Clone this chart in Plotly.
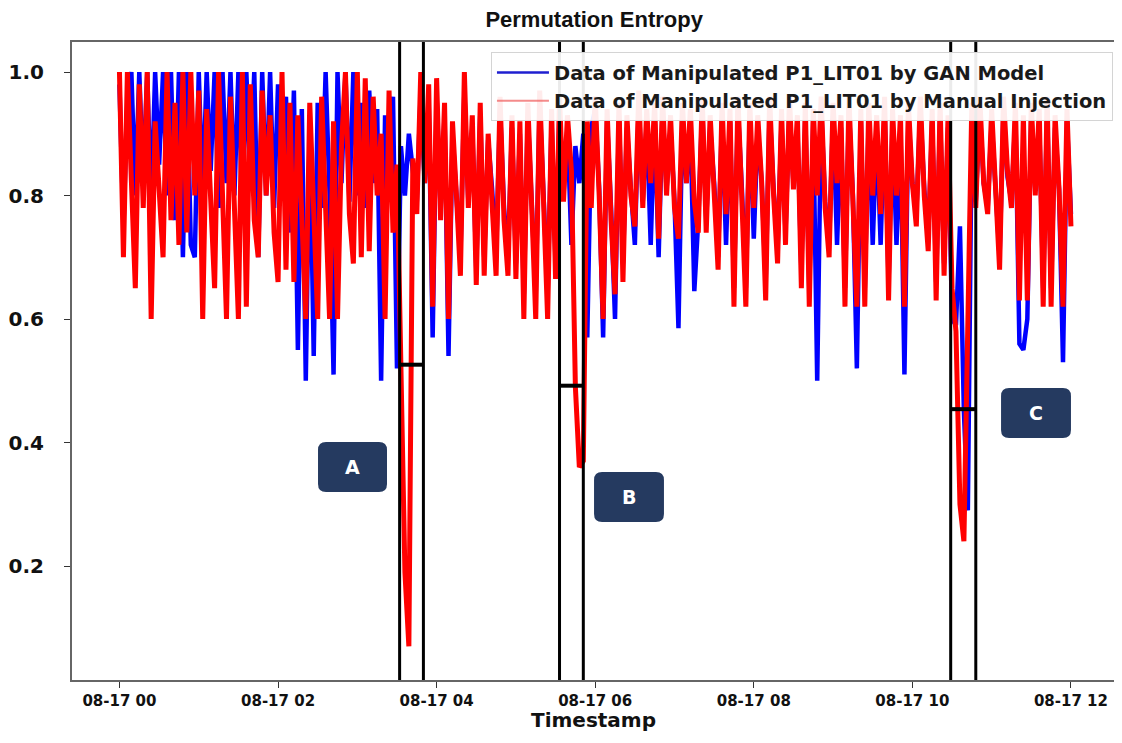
import pandas as pd
import plotly.graph_objects as go

# permutation entropy, one value every 3 minutes from 08-17 00:00 to 12:00
start_time = "2019-08-17 00:00"
step = "3min"

gan_values = [
    0.98, 0.75, 0.95, 1.00, 0.80, 1.00, 0.82, 1.00, 0.78, 1.00,
    0.85, 1.00, 0.80, 1.00, 0.76, 1.00, 0.70, 1.00, 0.72, 0.70,
    1.00, 0.80, 1.00, 0.84, 1.00, 0.78, 1.00, 0.82, 1.00, 0.80,
    1.00, 0.77, 1.00, 0.83, 1.00, 0.70, 1.00, 0.80, 1.00, 0.78,
    0.98, 0.82, 0.96, 0.74, 0.97, 0.55, 0.94, 0.50, 0.92, 0.54,
    0.95, 0.78, 1.00, 0.80, 0.51, 1.00, 0.82, 1.00, 0.79, 1.00,
    0.80, 0.95, 0.78, 0.97, 0.82, 0.94, 0.50, 0.93, 0.80, 0.96,
    0.52, 0.88, 0.80, 0.90, 0.84, 0.79, 0.97, 0.82, 0.95, 0.57,
    0.96, 0.78, 0.93, 0.54, 0.90, 0.81, 0.70, 0.97, 0.79, 0.91,
    0.68, 0.93, 0.70, 0.89, 0.81, 0.70, 0.94, 0.78, 0.70, 0.91,
    0.69, 0.90, 0.64, 0.93, 0.79, 0.64, 0.95, 0.80, 0.64, 0.92,
    0.69, 0.94, 0.80, 0.91, 0.72, 0.88, 0.82, 0.90, 0.57, 0.91,
    0.94, 0.81, 0.57, 0.92, 0.78, 0.60, 0.93, 0.69, 0.91, 0.81,
    0.72, 0.95, 0.79, 0.92, 0.72, 0.93, 0.70, 0.94, 0.81, 0.91,
    0.79, 0.585, 0.93, 0.82, 0.92, 0.645, 0.76, 0.94, 0.76, 0.91,
    0.82, 0.70, 0.93, 0.72, 0.92, 0.65, 0.94, 0.81, 0.65, 0.93,
    0.73, 0.91, 0.82, 0.66, 0.94, 0.81, 0.71, 0.92, 0.74, 0.94,
    0.82, 0.91, 0.68, 0.93, 0.65, 0.92, 0.50, 0.94, 0.79, 0.72,
    0.93, 0.72, 0.91, 0.65, 0.94, 0.80, 0.52, 0.92, 0.65, 0.93,
    0.72, 0.91, 0.72, 0.94, 0.66, 0.92, 0.72, 0.91, 0.51, 0.93,
    0.82, 0.77, 0.94, 0.81, 0.73, 0.92, 0.66, 0.93, 0.69, 0.91,
    0.60, 0.59, 0.75, 0.45, 0.29, 0.93, 0.79, 0.94, 0.82, 0.78,
    0.92, 0.81, 0.70, 0.94, 0.83, 0.79, 0.93, 0.56, 0.55, 0.60,
    0.93, 0.81, 0.92, 0.65, 0.94, 0.65, 0.91, 0.81, 0.53, 0.92,
    0.77,
]

manual_values = [
    1.00, 0.70, 1.00, 0.80, 0.65, 0.98, 0.78, 1.00, 0.60, 0.92,
    0.82, 0.70, 1.00, 0.76, 0.95, 0.72, 1.00, 0.74, 1.00, 0.80,
    0.97, 0.60, 0.94, 0.78, 0.65, 1.00, 0.80, 0.60, 0.96, 0.75,
    0.60, 1.00, 0.62, 0.98, 0.76, 0.70, 0.97, 0.80, 0.93, 0.74,
    0.66, 1.00, 0.68, 0.95, 0.66, 0.93, 0.78, 0.60, 0.95, 0.76,
    0.60, 0.96, 0.80, 0.60, 0.92, 0.60, 0.88, 1.00, 0.77, 0.69,
    1.00, 0.70, 0.99, 0.71, 0.96, 0.80, 0.90, 0.60, 0.97, 0.74,
    0.85, 0.53, 0.19, 0.07, 0.86, 0.77, 1.00, 0.82, 0.98, 0.62,
    0.99, 0.76, 0.95, 0.60, 0.92, 0.80, 0.67, 1.00, 0.78, 0.93,
    0.655, 0.95, 0.67, 0.90, 0.80, 0.67, 0.96, 0.76, 0.67, 0.93,
    0.665, 0.92, 0.60, 0.95, 0.78, 0.60, 0.97, 0.80, 0.60, 0.94,
    0.665, 0.96, 0.79, 0.93, 0.84, 0.49, 0.36, 0.37, 0.92, 0.78,
    0.96, 0.80, 0.60, 0.94, 0.76, 0.64, 0.95, 0.66, 0.93, 0.80,
    0.75, 0.97, 0.78, 0.94, 0.82, 0.95, 0.73, 0.96, 0.80, 0.93,
    0.78, 0.73, 0.95, 0.82, 0.94, 0.79, 0.74, 0.96, 0.74, 0.93,
    0.81, 0.68, 0.95, 0.77, 0.94, 0.62, 0.96, 0.80, 0.62, 0.95,
    0.78, 0.93, 0.82, 0.63, 0.96, 0.80, 0.69, 0.94, 0.72, 0.96,
    0.81, 0.93, 0.65, 0.95, 0.62, 0.94, 0.80, 0.96, 0.78, 0.70,
    0.95, 0.82, 0.93, 0.62, 0.96, 0.79, 0.62, 0.94, 0.62, 0.95,
    0.80, 0.93, 0.77, 0.96, 0.63, 0.94, 0.80, 0.93, 0.62, 0.95,
    0.82, 0.75, 0.96, 0.80, 0.71, 0.94, 0.63, 0.95, 0.67, 0.93,
    0.65, 0.58, 0.30, 0.24, 0.62, 0.95, 0.78, 0.96, 0.82, 0.77,
    0.94, 0.80, 0.68, 0.96, 0.84, 0.78, 0.95, 0.63, 0.93, 0.63,
    0.95, 0.80, 0.94, 0.62, 0.96, 0.62, 0.93, 0.81, 0.62, 0.94,
    0.75,
]

# attack windows (black verticals) and the threshold drawn inside each
attack_start = ["2019-08-17 03:32", "2019-08-17 05:33", "2019-08-17 10:29"]
attack_end = ["2019-08-17 03:50", "2019-08-17 05:51", "2019-08-17 10:48"]
attack_level = [0.526, 0.492, 0.454]
attack_label = ["A", "B", "C"]

assert len(gan_values) == len(manual_values)
times = pd.date_range(start_time, periods=len(manual_values), freq=step)

fig = go.Figure()
fig.add_trace(go.Scatter(x=times, y=gan_values, mode="lines",
                         line=dict(color="#0000ff", width=4.5), showlegend=False))
fig.add_trace(go.Scatter(x=times, y=manual_values, mode="lines",
                         line=dict(color="#ff0000", width=5), showlegend=False))
# legend entries (thin lines like the original)
fig.add_trace(go.Scatter(x=[None], y=[None], mode="lines",
                         line=dict(color="#1f1fd0", width=2.5),
                         name="Data of Manipulated P1_LIT01 by GAN Model"))
fig.add_trace(go.Scatter(x=[None], y=[None], mode="lines",
                         line=dict(color="rgba(240,90,90,0.7)", width=2),
                         name="Data of Manipulated P1_LIT01 by Manual Injection"))

shapes = []
for s, e, lv in zip(attack_start, attack_end, attack_level):
    for t in (s, e):
        shapes.append(dict(type="line", xref="x", yref="paper", x0=t, x1=t, y0=0, y1=1,
                           line=dict(color="black", width=3)))
    shapes.append(dict(type="line", xref="x", yref="y", x0=s, x1=e, y0=lv, y1=lv,
                       line=dict(color="black", width=4)))


def rounded_box(x0, y0, x1, y1, rx=8 / 1042, ry=8 / 638):
    return (f"M {x0 + rx},{y0} L {x1 - rx},{y0} Q {x1},{y0} {x1},{y0 + ry} "
            f"L {x1},{y1 - ry} Q {x1},{y1} {x1 - rx},{y1} L {x0 + rx},{y1} "
            f"Q {x0},{y1} {x0},{y1 - ry} L {x0},{y0 + ry} Q {x0},{y0} {x0 + rx},{y0} Z")


boxes = [(0.2361, 0.2947, 0.3023, 0.3730),
         (0.5010, 0.2476, 0.5681, 0.3260),
         (0.8916, 0.3793, 0.9587, 0.4577)]
annotations = []
for (bx0, by0, bx1, by1), lab in zip(boxes, attack_label):
    shapes.append(dict(type="path", xref="paper", yref="paper", path=rounded_box(bx0, by0, bx1, by1),
                       fillcolor="#253a60", line=dict(width=0)))
    annotations.append(dict(xref="paper", yref="paper", x=(bx0 + bx1) / 2, y=(by0 + by1) / 2,
                            xanchor="center", yanchor="middle", text=lab, showarrow=False,
                            font=dict(family="DejaVu Sans", size=19, color="white", weight="bold")))

# x axis title placed as a paper annotation (standoff is ignored without automargin)
annotations.append(dict(xref="paper", yref="paper", x=0.5, y=-0.063, xanchor="center", yanchor="middle",
                        text="Timestamp", showarrow=False,
                        font=dict(family="DejaVu Sans", size=20, color="#111", weight="bold")))

# page body adds an 8px margin, so the figure is sized to fit inside the window
fig.update_layout(
    width=1106, height=727,
    margin=dict(l=64, r=0, t=34, b=55, autoexpand=False),
    paper_bgcolor="white", plot_bgcolor="white",
    title=dict(text="Permutation Entropy", x=0.53, xanchor="center", y=1.0, yanchor="top",
               pad=dict(t=4, b=0),
               font=dict(family="Liberation Sans", size=22, color="#111", weight="bold")),
    shapes=shapes, annotations=annotations,
    legend=dict(x=0.999, xanchor="right", y=0.984, yanchor="top",
                bgcolor="rgba(255,255,255,0.92)", bordercolor="#d4d4d4", borderwidth=1,
                font=dict(family="DejaVu Sans", size=19.5, color="#1a1a1a", weight="bold"),
                itemwidth=52, tracegroupgap=0),
)
fig.update_xaxes(
    range=["2019-08-16 23:24:05", "2019-08-17 12:32:35"], automargin=False,
    tick0="2019-08-17 00:00", dtick=2 * 3600 * 1000, tickformat="%m-%d %H",
    ticks="outside", ticklen=6, tickcolor="#333", showgrid=False, zeroline=False,
    showline=True, linecolor="#666", linewidth=2, mirror=True,
    tickfont=dict(family="DejaVu Sans", size=15, color="#111", weight="bold"),
)
fig.update_yaxes(
    range=[0.0154, 1.0486], tickvals=[0.2, 0.4, 0.6, 0.8, 1.0], tickformat=".1f", automargin=False,
    ticks="outside", ticklen=6, tickcolor="#333", showgrid=False, zeroline=False,
    showline=True, linecolor="#666", linewidth=2, mirror=True, ticklabelstandoff=16,
    tickfont=dict(family="DejaVu Sans", size=20, color="#111", weight="bold"),
)

fig.write_html("out.html")
